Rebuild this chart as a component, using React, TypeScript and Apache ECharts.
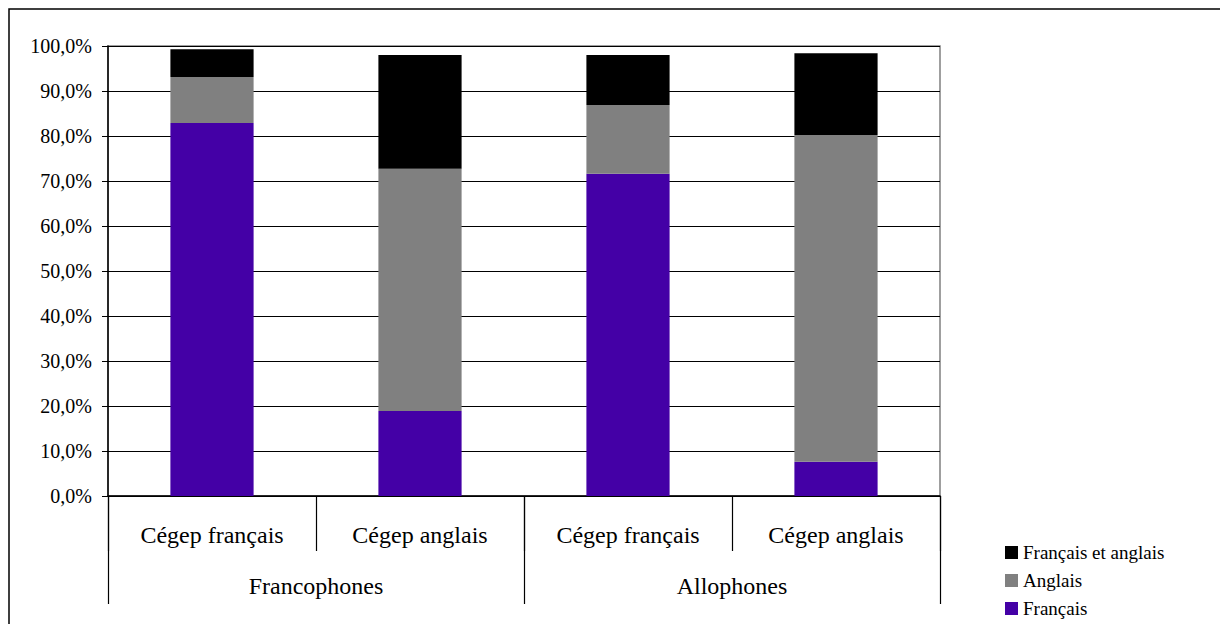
import React, { useEffect, useRef } from "react";
import * as echarts from "echarts";

const categories = ["Cégep français", "Cégep anglais", "Cégep français", "Cégep anglais"];
const groups = ["Francophones", "Allophones"];
const francais = [82.9, 18.9, 71.6, 7.6];
const anglais = [10.2, 53.8, 15.3, 72.6];
const lesDeux = [6.2, 25.3, 11.1, 18.2];
const legendOrder = ["Français et anglais", "Anglais", "Français"];

const FONT = "Times New Roman, Liberation Serif, DejaVu Serif, serif";

export default function App() {
  const ref = useRef<HTMLDivElement>(null);
  useEffect(() => {
    if (!ref.current) return;
    const chart = echarts.init(ref.current, undefined, { renderer: "svg" });
    chart.setOption({
      animation: false,
      backgroundColor: "#fff",
      textStyle: { fontFamily: FONT, color: "#000" },
      graphic: [
        {
          type: "rect",
          shape: { x: 9, y: 9, width: 1230, height: 640 },
          style: { fill: "none", stroke: "#000", lineWidth: 1.5 },
          silent: true,
        },
      ],
      legend: {
        orient: "vertical",
        left: 1000,
        top: 538,
        height: 120,
        itemWidth: 13,
        itemHeight: 13,
        itemGap: 9,
        icon: "rect",
        data: legendOrder,
        textStyle: { fontFamily: FONT, fontSize: 19, color: "#000", padding: [0, 0, 0, 0] },
      },
      grid: { left: 108, right: 280, top: 46, bottom: 128, show: true, borderColor: "#808080", borderWidth: 1.5 },
      xAxis: [
        {
          type: "category",
          data: categories,
          position: "bottom",
          axisLine: { show: true, lineStyle: { color: "#000", width: 1.5 } },
          axisTick: { show: true, length: 55, lineStyle: { color: "#000", width: 1.2 } },
          axisLabel: { fontFamily: FONT, fontSize: 24, color: "#000", margin: 27, interval: 0 },
        },
        {
          type: "category",
          data: groups,
          position: "bottom",
          axisLine: { show: false },
          axisTick: { show: true, length: 108, lineStyle: { color: "#000", width: 1.2 } },
          axisLabel: { fontFamily: FONT, fontSize: 24, color: "#000", margin: 78, interval: 0 },
        },
      ],
      yAxis: {
        type: "value",
        min: 0,
        max: 100,
        interval: 10,
        axisLine: { show: true, lineStyle: { color: "#000", width: 1.5 } },
        axisTick: { show: true, length: 6, lineStyle: { color: "#000" } },
        splitLine: { show: true, lineStyle: { color: "#000", width: 1 } },
        axisLabel: {
          fontFamily: FONT,
          fontSize: 20,
          color: "#000",
          margin: 16,
          formatter: (v: number) => v.toFixed(1).replace(".", ",") + "%",
        },
      },
      series: [
        { name: "Français", type: "bar", stack: "s", data: francais, barWidth: "40%", itemStyle: { color: "#4400A6" } },
        { name: "Anglais", type: "bar", stack: "s", data: anglais, barWidth: "40%", itemStyle: { color: "#808080" } },
        { name: "Français et anglais", type: "bar", stack: "s", data: lesDeux, barWidth: "40%", itemStyle: { color: "#000000" } },
      ],
    });
    return () => chart.dispose();
  }, []);
  return <div ref={ref} style={{ position: "fixed", left: 0, top: 0, width: 1220, height: 624 }} />;
}
